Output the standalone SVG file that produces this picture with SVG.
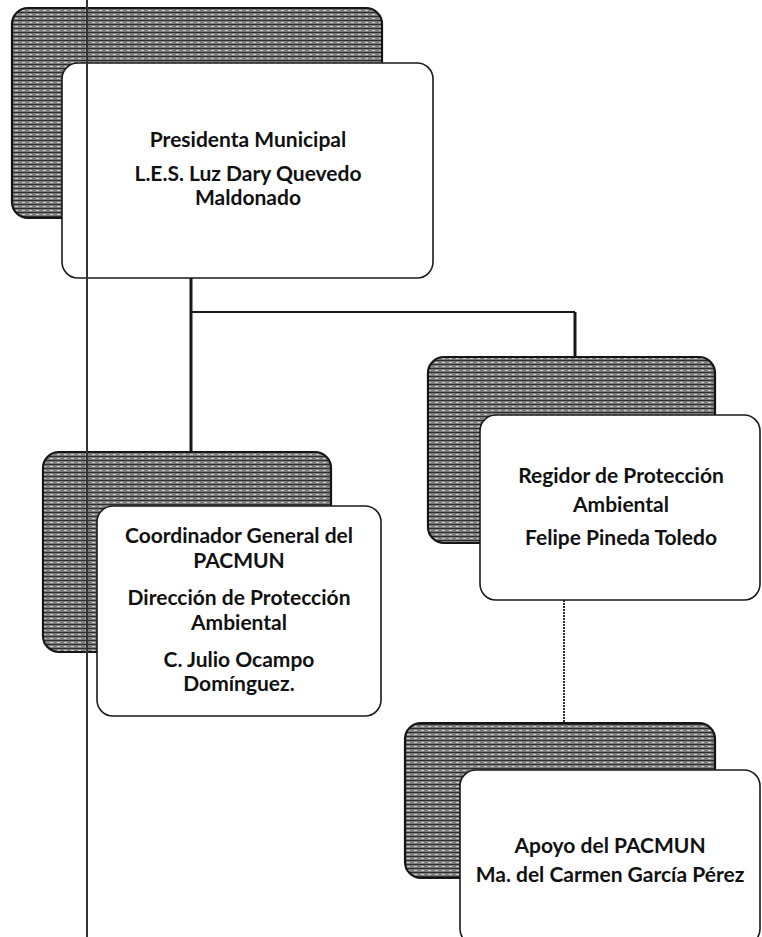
<svg xmlns="http://www.w3.org/2000/svg" width="762" height="937" viewBox="0 0 762 937">
<style>
.shadow{fill:url(#hatch);stroke:#151515;stroke-width:2.2}
.card{fill:#ffffff;stroke:#1a1a1a;stroke-width:1.6}
.t{font-family:Lato,"Liberation Sans",sans-serif;font-weight:bold;font-size:21px;fill:#111;text-anchor:middle}
.conn{stroke:#1a1a1a;fill:none}
</style>
<defs>
<pattern id="hatch" width="7" height="4" patternUnits="userSpaceOnUse">
<rect width="7" height="4" fill="#7c7c7c"/>
<path d="M0 0.5H7" stroke="#2e2e2e" stroke-width="1"/>
<path d="M1 2.5H4" stroke="#cfcfcf" stroke-width="1"/>
</pattern>
</defs>
<rect width="762" height="937" fill="#ffffff"/>
<g id="connectors">
<line class="conn" x1="191" y1="278" x2="191" y2="452" stroke-width="3"/>
<line class="conn" x1="191" y1="312" x2="575" y2="312" stroke-width="2" stroke="#333"/>
<line class="conn" x1="575" y1="312" x2="575" y2="357" stroke-width="3"/>
<line class="conn" x1="564" y1="600" x2="564" y2="723" stroke-width="1.8" stroke="#555" stroke-dasharray="2 1"/>
</g>
<g id="node-presidenta">
<rect class="shadow" x="12" y="8" width="370" height="210" rx="16"/>
<rect class="card" x="62" y="63" width="371" height="215" rx="16"/>
<text class="t" x="248" y="147">Presidenta Municipal</text>
<text class="t" x="248" y="181">L.E.S. Luz Dary Quevedo</text>
<text class="t" x="248" y="205">Maldonado</text>
</g>
<g id="node-coordinador">
<rect class="shadow" x="43" y="452" width="288" height="200" rx="16"/>
<rect class="card" x="97" y="506" width="284" height="210" rx="16"/>
<text class="t" x="239" y="543">Coordinador General del</text>
<text class="t" x="239" y="568">PACMUN</text>
<text class="t" x="239" y="605">Dirección de Protección</text>
<text class="t" x="239" y="630">Ambiental</text>
<text class="t" x="239" y="667">C. Julio Ocampo</text>
<text class="t" x="239" y="691">Domínguez.</text>
</g>
<g id="node-regidor">
<rect class="shadow" x="428" y="357" width="287" height="186" rx="16"/>
<rect class="card" x="480" y="415" width="280" height="185" rx="16"/>
<text class="t" x="621" y="483">Regidor de Protección</text>
<text class="t" x="621" y="512">Ambiental</text>
<text class="t" x="621" y="545">Felipe Pineda Toledo</text>
</g>
<g id="node-apoyo">
<rect class="shadow" x="405" y="723" width="310" height="155" rx="16"/>
<rect class="card" x="460" y="770" width="300" height="175" rx="16"/>
<text class="t" x="610" y="853">Apoyo del PACMUN</text>
<text class="t" x="610" y="882">Ma. del Carmen García Pérez</text>
</g>
<g id="margin-line">
<line x1="87" y1="0" x2="87" y2="937" stroke="#333" stroke-width="2"/>
</g>
</svg>
